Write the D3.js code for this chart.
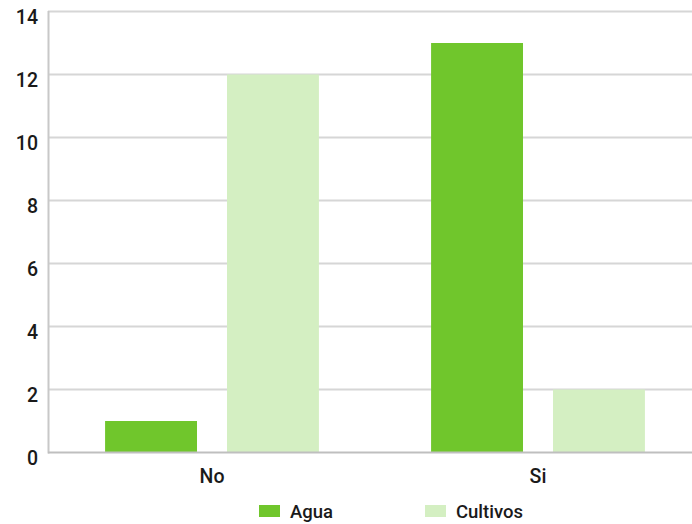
<!DOCTYPE html>
<html><head><meta charset="utf-8">
<script src="https://cdn.jsdelivr.net/npm/d3@7"></script>
<style>
body{margin:0;background:#fff;}
text{font-family:"Roboto","Liberation Sans",sans-serif;fill:#1a1a1a;}
</style></head>
<body><svg id="c" width="692" height="524"></svg>
<script>
const categories = ["No", "Si"];
const seriesNames = ["Agua", "Cultivos"];
const agua = [1, 13];
const cultivos = [12, 2];
const yTicks = [0, 2, 4, 6, 8, 10, 12, 14];
const colors = ["#70c62c", "#d4efc2"];

const svg = d3.select("#c");
const x0 = d3.scaleBand().domain(categories).range([49, 701]).paddingInner(0).paddingOuter(0);
const x1 = d3.scaleBand().domain(seriesNames).range([0, x0.bandwidth()]).paddingInner(0.246).paddingOuter(0.46);
const y = d3.scaleLinear().domain([0, 14]).range([452.5, 11.5]);

// gridlines
svg.append("g").selectAll("line").data(yTicks.filter(d => d > 0)).join("line")
  .attr("x1", 48).attr("x2", 692)
  .attr("y1", d => y(d)).attr("y2", d => y(d))
  .attr("stroke", "#d6d6d6").attr("stroke-width", 2);

// y labels
const yAxis = d3.axisLeft(y).tickValues(yTicks).tickSize(0).tickPadding(0);
const ga = svg.append("g").attr("transform", "translate(38,0)").call(yAxis);
ga.select(".domain").remove();
ga.selectAll("text").attr("font-size", 19.5).attr("font-weight", 500).attr("dy", "0.6em").attr("font-family", "Roboto, sans-serif").attr("fill", "#1a1a1a");

const data = categories.map((c, i) => ({cat: c, vals: [agua[i], cultivos[i]]}));
const g = svg.append("g");
g.selectAll("g").data(data).join("g")
  .attr("transform", d => `translate(${x0(d.cat)},0)`)
  .selectAll("rect").data(d => d.vals.map((v, j) => ({s: seriesNames[j], v, j})))
  .join("rect")
  .attr("x", d => x1(d.s)).attr("width", x1.bandwidth())
  .attr("y", d => y(d.v)).attr("height", d => y(0) - y(d.v))
  .attr("fill", d => colors[d.j]);

// axes lines
svg.append("line").attr("x1", 48.5).attr("x2", 48.5).attr("y1", 11).attr("y2", 453.5).attr("stroke", "#c8c8c8").attr("stroke-width", 2);
svg.append("line").attr("x1", 48).attr("x2", 692).attr("y1", y(0)).attr("y2", y(0)).attr("stroke", "#bfbfbf").attr("stroke-width", 2);

// x labels
const xAxis = d3.axisBottom(x0).tickSize(0).tickPadding(0);
const gx = svg.append("g").attr("transform", "translate(0,483)").call(xAxis);
gx.select(".domain").remove();
gx.selectAll("text").attr("font-size", 19.5).attr("font-weight", 500).attr("dy", 0).attr("font-family", "Roboto, sans-serif").attr("fill", "#1a1a1a");

// legend
const legX = [259, 425];
const lg = svg.append("g").selectAll("g").data(seriesNames).join("g")
  .attr("transform", (d, i) => `translate(${legX[i]},505)`);
lg.append("rect").attr("width", 21).attr("height", 12).attr("fill", (d, i) => colors[i]);
lg.append("text").attr("x", 31).attr("y", 12.5).attr("font-size", 18.5).attr("font-weight", 500).text(d => d);
</script></body></html>
